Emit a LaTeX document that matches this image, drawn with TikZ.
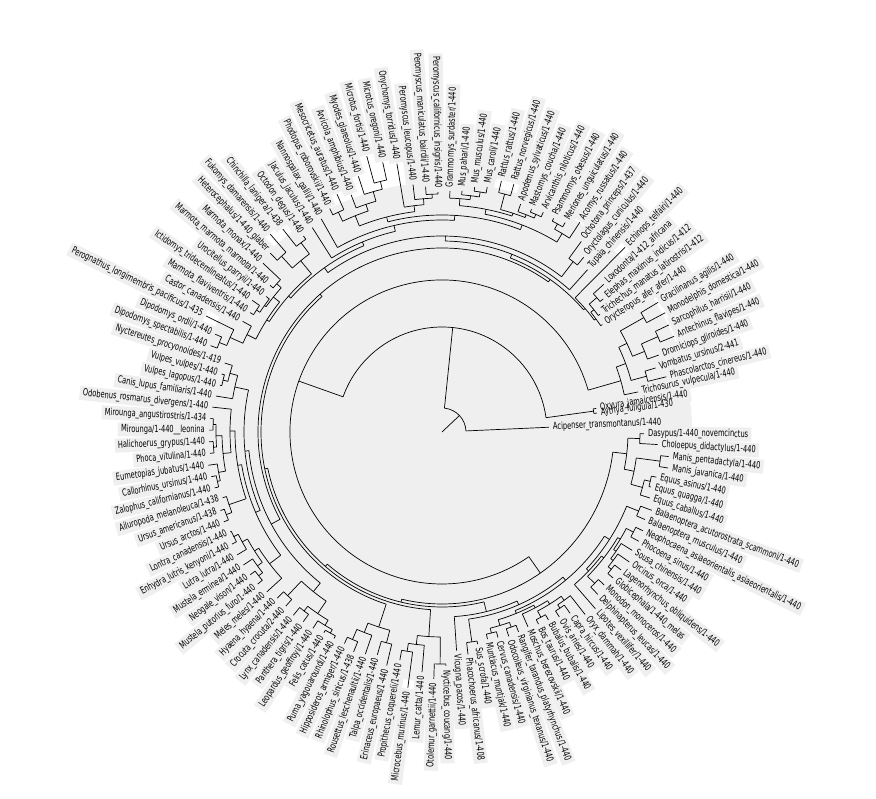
\documentclass[tikz,border=0pt]{standalone}
\usepackage{fontspec}
\usetikzlibrary{backgrounds}
\newfontfamily\labfont{DejaVu Sans}[FakeStretch=0.68]
\definecolor{bgc}{HTML}{EFEFEF}
\tikzset{
  br/.style={line width=0.7pt, black},
  lab/.style={font=\labfont\fontsize{9.8}{10}\selectfont, inner sep=0pt, text height=7.2pt, text depth=2pt},
  halo/.style={bgc, line width=14pt, shorten <=-3pt, shorten >=-3pt}
}
\newcommand\angA{2.4}
\newcommand\angS{2.857}
% leaf: name, index, tip radius, label
\newcommand\tleaf[4]{%
  \pgfmathsetmacro\tang{\angA+(#2-1)*\angS}%
  \expandafter\xdef\csname tA@#1\endcsname{\tang}%
  \expandafter\xdef\csname tR@#1\endcsname{#3}%
  \pgfmathsetmacro\trl{#3+4}%
  \pgfmathtruncatemacro\tflip{(\tang>90)&&(\tang<270)}%
  \ifnum\tflip=1
    \node[lab, anchor=east, rotate=\tang-180] (#1) at (\tang:\trl pt) {#4};
  \else
    \node[lab, anchor=west, rotate=\tang] (#1) at (\tang:\trl pt) {#4};
  \fi
  \begin{pgfonlayer}{background}
    \draw[halo] (#1.west) -- (#1.east);
  \end{pgfonlayer}
}
% internal node: name, child1, child2, radius
\newcommand\tnode[4]{%
  \edef\tca{\csname tA@#2\endcsname}\edef\tcb{\csname tA@#3\endcsname}%
  \edef\tra{\csname tR@#2\endcsname}\edef\trb{\csname tR@#3\endcsname}%
  \draw[br] (\tca:#4pt) arc[start angle=\tca, end angle=\tcb, radius=#4pt];
  \draw[br] (\tca:#4pt) -- (\tca:\tra pt);
  \draw[br] (\tcb:#4pt) -- (\tcb:\trb pt);
  \pgfmathsetmacro\tm{(\tca+\tcb)/2}%
  \expandafter\xdef\csname tA@#1\endcsname{\tm}%
  \expandafter\xdef\csname tR@#1\endcsname{#4}%
}
\begin{document}
\begin{tikzpicture}
\begin{pgfonlayer}{background}
\fill[white] (-442pt,-367pt) rectangle (434pt,432pt);
\fill[bgc] (0,0) circle (250pt);
\end{pgfonlayer}
\useasboundingbox (-442pt,-367pt) rectangle (434pt,432pt);
% leaves
\tleaf{L1}{1.05}{107}{Acipenser\_transmontanus/1-440}
\tleaf{L2}{2.6}{156}{Aythya\_fuligula/1-430}
\tleaf{L3}{3.2}{156}{Oxyura\_jamaicensis/1-440}
\tleaf{L4}{4.2}{200}{Trichosurus\_vulpecula/1-440}
\tleaf{L5}{5}{231}{Phascolarctos\_cinereus/1-440}
\tleaf{L6}{6}{223}{Vombatus\_ursinus/2-441}
\tleaf{L7}{7}{230}{Dromiciops\_gliroides/1-440}
\tleaf{L8}{8}{251}{Antechinus\_flavipes/1-440}
\tleaf{L9}{9}{251}{Sarcophilus\_harrisii/1-440}
\tleaf{L10}{10}{253}{Monodelphis\_domestica/1-440}
\tleaf{L11}{11}{252}{Gracilinanus\_agilis/1-440}
\tleaf{L12}{12}{193}{Orycteropus\_afer\_afer/1-440}
\tleaf{L13}{13}{197}{Trichechus\_manatus\_latirostris/1-412}
\tleaf{L14}{14}{209}{Elephas\_maximus\_indicus/1-412}
\tleaf{L15}{15}{219}{Loxodonta/1-412\_africana}
\tleaf{L16}{16}{260}{Echinops\_telfairi/1-440}
\tleaf{L17}{17}{218}{Tupaia\_chinensis/1-440}
\tleaf{L18}{18}{225}{Oryctolagus\_cuniculus/1-440}
\tleaf{L19}{19}{236}{Ochotona\_princeps/1-437}
\tleaf{L20}{20}{251}{Acomys\_russatus/1-440}
\tleaf{L21}{21}{243}{Meriones\_unguiculatus/1-440}
\tleaf{L22}{22}{241}{Psammomys\_obesus/1-440}
\tleaf{L23}{23}{242}{Arvicanthis\_niloticus/1-440}
\tleaf{L24}{24}{240}{Mastomys\_coucha/1-440}
\tleaf{L25}{25}{241}{Apodemus\_sylvaticus/1-440}
\tleaf{L26}{26}{258}{Rattus\_norvegicus/1-440}
\tleaf{L27}{27}{258}{Rattus\_rattus/1-440}
\tleaf{L28}{28}{249}{Mus\_caroli/1-440}
\tleaf{L29}{29}{247}{Mus\_musculus/1-440}
\tleaf{L30}{30}{242}{Mus\_pahari/1-440}
\tleaf{L31}{31}{241}{Grammomys\_surdaster/1-440}
\tleaf{L32}{32}{240}{Peromyscus\_californicus\_insignis/1-440}
\tleaf{L33}{33}{246}{Peromyscus\_maniculatus\_bairdii/1-440}
\tleaf{L34}{34}{249}{Peromyscus\_leucopus/1-440}
\tleaf{L35}{35}{272}{Onychomys\_torridus/1-440}
\tleaf{L36}{36}{276}{Microtus\_oregoni/1-440}
\tleaf{L37}{37}{286}{Microtus\_fortis/1-440}
\tleaf{L38}{38}{269}{Myodes\_glareolus/1-440}
\tleaf{L39}{39}{254}{Arvicola\_amphibius/1-440}
\tleaf{L40}{40}{260}{Mesocricetus\_auratus/1-440}
\tleaf{L41}{41}{250}{Phodopus\_roborovskii/1-440}
\tleaf{L42}{42}{245}{Nannospalax\_galili/1-440}
\tleaf{L43}{43}{242}{Jaculus\_jaculus/1-440}
\tleaf{L44}{44}{240}{Octodon\_degus/1-440}
\tleaf{L45}{45}{258}{Chinchilla\_lanigera/1-438}
\tleaf{L46}{46}{262}{Fukomys\_damarensis/1-440}
\tleaf{L47}{47}{248}{Heterocephalus/1-440\_glaber}
\tleaf{L48}{48}{246}{Marmota\_monax/1-440}
\tleaf{L49}{49}{226}{Marmota\_marmota\_marmota/1-440}
\tleaf{L50}{50}{222}{Urocitellus\_parryii/1-440}
\tleaf{L51}{51}{231}{Ictidomys\_tridecemlineatus/1-440}
\tleaf{L52}{52}{226}{Marmota\_flaviventris/1-440}
\tleaf{L53}{53}{228}{Castor\_canadensis/1-440}
\tleaf{L54}{54}{263}{Perognathus\_longimembris\_pacificus/1-435}
\tleaf{L55}{55}{247}{Dipodomys\_ordii/1-440}
\tleaf{L56}{56}{247}{Dipodomys\_spectabilis/1-440}
\tleaf{L57}{57}{228}{Nyctereutes\_procyonoides/1-419}
\tleaf{L58}{58}{228}{Vulpes\_vulpes/1-440}
\tleaf{L59}{59}{227}{Vulpes\_lagopus/1-440}
\tleaf{L60}{60}{229}{Canis\_lupus\_familiaris/1-440}
\tleaf{L61}{61}{231}{Odobenus\_rosmarus\_divergens/1-440}
\tleaf{L62}{62}{232}{Mirounga\_angustirostris/1-434}
\tleaf{L63}{63}{233}{Mirounga/1-440\_\_leonina}
\tleaf{L64}{64}{233}{Halichoerus\_grypus/1-440}
\tleaf{L65}{65}{233}{Phoca\_vitulina/1-440}
\tleaf{L66}{66}{236}{Eumetopias\_jubatus/1-440}
\tleaf{L67}{67}{235}{Callorhinus\_ursinus/1-440}
\tleaf{L68}{68}{234}{Zalophus\_californianus/1-440}
\tleaf{L69}{69}{229}{Ailuropoda\_melanoleuca/1-438}
\tleaf{L70}{70}{235}{Ursus\_americanus/1-438}
\tleaf{L71}{71}{236}{Ursus\_arctos/1-440}
\tleaf{L72}{72}{234}{Lontra\_canadensis/1-440}
\tleaf{L73}{73}{238}{Enhydra\_lutris\_kenyoni/1-440}
\tleaf{L74}{74}{239}{Lutra\_lutra/1-440}
\tleaf{L75}{75}{239}{Mustela\_erminea/1-440}
\tleaf{L76}{76}{239}{Neogale\_vison/1-440}
\tleaf{L77}{77}{239}{Mustela\_putorius\_furo/1-440}
\tleaf{L78}{78}{237}{Meles\_meles/1-440}
\tleaf{L79}{79}{234}{Hyaena\_hyaena/1-440}
\tleaf{L80}{80}{234}{Crocuta\_crocuta/2-440}
\tleaf{L81}{81}{236}{Lynx\_canadensis/1-440}
\tleaf{L82}{82}{235}{Panthera\_tigris/1-440}
\tleaf{L83}{83}{235}{Leopardus\_geoffroyi/1-440}
\tleaf{L84}{84}{233}{Felis\_catus/1-440}
\tleaf{L85}{85}{233}{Puma\_yagouaroundi/1-440}
\tleaf{L86}{86}{233}{Hipposideros\_armiger/1-440}
\tleaf{L87}{87}{237}{Rhinolophus\_sinicus/1-438}
\tleaf{L88}{88}{235}{Rousettus\_leschenaultii/1-440}
\tleaf{L89}{89}{232}{Talpa\_occidentalis/1-440}
\tleaf{L90}{90}{240}{Erinaceus\_europaeus/1-440}
\tleaf{L91}{91}{232}{Propithecus\_coquereli/1-440}
\tleaf{L92}{92}{258}{Microcebus\_murinus/1-440}
\tleaf{L93}{93}{241}{Lemur\_catta/1-440}
\tleaf{L94}{94}{247}{Otolemur\_garnettii/1-440}
\tleaf{L95}{95}{234}{Nycticebus\_coucang/1-440}
\tleaf{L96}{96}{219}{Vicugna\_pacos/1-440}
\tleaf{L97}{97}{224}{Phacochoerus\_africanus/1-408}
\tleaf{L98}{98}{215}{Sus\_scrofa/1-440}
\tleaf{L99}{99}{212}{Muntiacus\_muntjak/1-440}
\tleaf{L100}{100}{213}{Cervus\_canadensis/1-440}
\tleaf{L101}{101}{215}{Odocoileus\_virginianus\_texanus/1-440}
\tleaf{L102}{102}{214}{Rangifer\_tarandus\_platyrhynchus/1-440}
\tleaf{L103}{103}{213}{Moschus\_berezovskii/1-440}
\tleaf{L104}{104}{215}{Bos\_taurus/1-440}
\tleaf{L105}{105}{216}{Bubalus\_bubalis/1-440}
\tleaf{L106}{106}{219}{Ovis\_aries/1-440}
\tleaf{L107}{107}{222}{Capra\_hircus/1-440}
\tleaf{L108}{108}{232}{Oryx\_dammah/1-440}
\tleaf{L109}{109}{234}{Lipotes\_vexillifer/1-440}
\tleaf{L110}{110}{225}{Delphinapterus\_leucas/1-440}
\tleaf{L111}{111}{223}{Monodon\_monoceros/1-440}
\tleaf{L112}{112}{225}{Globicephala/1-440\_melas}
\tleaf{L113}{113}{226}{Lagenorhynchus\_obliquidens/1-440}
\tleaf{L114}{114}{228}{Orcinus\_orca/1-440}
\tleaf{L115}{115}{224}{Sousa\_chinensis/1-440}
\tleaf{L116}{116}{225}{Phocoena\_sinus/1-440}
\tleaf{L117}{117}{224}{Neophocaena\_asiaeorientalis\_asiaeorientalis/1-440}
\tleaf{L118}{118}{221}{Balaenoptera\_musculus/1-440}
\tleaf{L119}{119}{224}{Balaenoptera\_acutorostrata\_scammoni/1-440}
\tleaf{L120}{120}{218}{Equus\_caballus/1-440}
\tleaf{L121}{121}{216}{Equus\_quagga/1-440}
\tleaf{L122}{122}{219}{Equus\_asinus/1-440}
\tleaf{L123}{123}{229}{Manis\_javanica/1-440}
\tleaf{L124}{124}{228}{Manis\_pentadactyla/1-440}
\tleaf{L125}{125}{216}{Choloepus\_didactylus/1-440}
\tleaf{L126}{126}{202}{Dasypus/1-440\_novemcinctus}
% internal nodes
\tnode{Bd}{L2}{L3}{153}
\tnode{PV}{L5}{L6}{212}
\tnode{AS}{L8}{L9}{236}
\tnode{DAS}{L7}{AS}{218}
\tnode{MG}{L10}{L11}{232}
\tnode{DAMG}{DAS}{MG}{205}
\tnode{MR}{PV}{DAMG}{196}
\tnode{Mars}{L4}{MR}{186}
\tnode{EL}{L14}{L15}{205}
\tnode{TEL}{L13}{EL}{195}
\tnode{OTEL}{L12}{TEL}{191}
\tnode{Afro}{OTEL}{L16}{189}
\tnode{Lago}{L18}{L19}{215}
\tnode{G2}{L21}{L22}{238}
\tnode{AG}{L20}{G2}{232}
\tnode{AM}{L23}{L24}{237}
\tnode{AMA}{AM}{L25}{233}
\tnode{Rat}{L26}{L27}{246}
\tnode{RA}{AMA}{Rat}{230}
\tnode{MusMC}{L28}{L29}{243}
\tnode{Mus}{MusMC}{L30}{238}
\tnode{MusG}{Mus}{L31}{234}
\tnode{Mur}{RA}{MusG}{227}
\tnode{Muridae}{AG}{Mur}{222}
\tnode{Pero}{L32}{L33}{238}
\tnode{P3}{Pero}{L34}{234}
\tnode{PO}{P3}{L35}{228}
\tnode{MO}{L36}{L37}{258}
\tnode{MOM}{MO}{L38}{250}
\tnode{Arvic}{MOM}{L39}{240}
\tnode{Cric}{L40}{L41}{243}
\tnode{Cri1}{Arvic}{Cric}{233}
\tnode{Cricetidae}{PO}{Cri1}{222}
\tnode{Muroidea}{Muridae}{Cricetidae}{217}
\tnode{Mu2}{Muroidea}{L42}{212}
\tnode{Myo}{Mu2}{L43}{206}
\tnode{OC1}{L44}{L45}{236}
\tnode{FH}{L46}{L47}{238}
\tnode{Hyst}{OC1}{FH}{222}
\tnode{MM}{L48}{L49}{222}
\tnode{IF}{L51}{L52}{222}
\tnode{UIF}{L50}{IF}{218}
\tnode{Sci}{MM}{UIF}{216}
\tnode{Dipo}{L55}{L56}{240}
\tnode{Het}{L54}{Dipo}{232}
\tnode{CasHet}{L53}{Het}{218}
\tnode{R3}{Sci}{CasHet}{208}
\tnode{R2}{Hyst}{R3}{205}
\tnode{Rod}{Myo}{R2}{202}
\tnode{Glires}{Lago}{Rod}{196}
\tnode{Euarch}{L17}{Glires}{191}
\tnode{Q5}{Afro}{Euarch}{187}
\tnode{VV}{L58}{L59}{225}
\tnode{NVV}{L57}{VV}{220}
\tnode{Can}{NVV}{L60}{212}
\tnode{Mir}{L62}{L63}{229}
\tnode{HP}{L64}{L65}{229}
\tnode{Phoc}{Mir}{HP}{226}
\tnode{CZ}{L67}{L68}{230}
\tnode{Otar}{L66}{CZ}{227}
\tnode{PO2}{Phoc}{Otar}{220}
\tnode{Pinn}{L61}{PO2}{212}
\tnode{UU}{L70}{L71}{231}
\tnode{Urs}{L69}{UU}{225}
\tnode{PU}{Pinn}{Urs}{207}
\tnode{LE}{L72}{L73}{233}
\tnode{Lut}{LE}{L74}{228}
\tnode{NP}{L76}{L77}{233}
\tnode{Mst}{L75}{NP}{228}
\tnode{LM}{Lut}{Mst}{222}
\tnode{Must}{LM}{L78}{217}
\tnode{Arct}{PU}{Must}{203}
\tnode{Canif}{Can}{Arct}{198}
\tnode{Hy}{L79}{L80}{225}
\tnode{LP}{L81}{L82}{226}
\tnode{FP}{L84}{L85}{230}
\tnode{LFP}{L83}{FP}{226}
\tnode{Fel}{LP}{LFP}{220}
\tnode{Feli}{Hy}{Fel}{205}
\tnode{Carn}{Canif}{Feli}{194}
\tnode{Q4}{Q5}{Carn}{184}
\tnode{HR}{L86}{L87}{226}
\tnode{Chiro}{HR}{L88}{215}
\tnode{Eulip}{L89}{L90}{218}
\tnode{ChEu}{Chiro}{Eulip}{205}
\tnode{Q3}{Q4}{ChEu}{181}
\tnode{PM}{L91}{L92}{222}
\tnode{PML}{PM}{L93}{214}
\tnode{ON}{L94}{L95}{232}
\tnode{Prim}{PML}{ON}{205}
\tnode{Q2}{Q3}{Prim}{178}
\tnode{Sui}{L97}{L98}{212}
\tnode{MC}{L99}{L100}{207}
\tnode{OR}{L101}{L102}{207}
\tnode{Cerv}{MC}{OR}{202}
\tnode{BB}{L104}{L105}{210}
\tnode{OC}{L106}{L107}{212}
\tnode{OCO}{OC}{L108}{208}
\tnode{Bov}{BB}{OCO}{203}
\tnode{MosBov}{L103}{Bov}{199}
\tnode{Rum}{Cerv}{MosBov}{196}
\tnode{MD}{L110}{L111}{215}
\tnode{GL}{L112}{L113}{218}
\tnode{GLO}{GL}{L114}{214}
\tnode{Del}{GLO}{L115}{211}
\tnode{Pho}{L116}{L117}{216}
\tnode{DP}{Del}{Pho}{208}
\tnode{MDDP}{MD}{DP}{205}
\tnode{Odont}{L109}{MDDP}{202}
\tnode{Bal}{L118}{L119}{212}
\tnode{Cet}{Odont}{Bal}{199}
\tnode{RumCet}{Rum}{Cet}{193}
\tnode{SRC}{Sui}{RumCet}{189}
\tnode{Cetart}{L96}{SRC}{185}
\tnode{Q1}{Q2}{Cetart}{175}
\tnode{QA}{L121}{L122}{214}
\tnode{Periss}{L120}{QA}{208}
\tnode{Phol}{L123}{L124}{220}
\tnode{PE}{Periss}{Phol}{196}
\tnode{Xen}{L125}{L126}{198}
\tnode{PX}{PE}{Xen}{186}
\tnode{P}{Q1}{PX}{172}
\tnode{Mam}{Mars}{P}{152}
\tnode{A}{Bd}{Mam}{105}
\tnode{Rt}{L1}{A}{24}
\coordinate (ctr) at (0,0);
\coordinate (rootpt) at (\csname tA@Rt\endcsname:24pt);
\draw[br] (ctr) -- (rootpt);
\end{tikzpicture}
\end{document}
